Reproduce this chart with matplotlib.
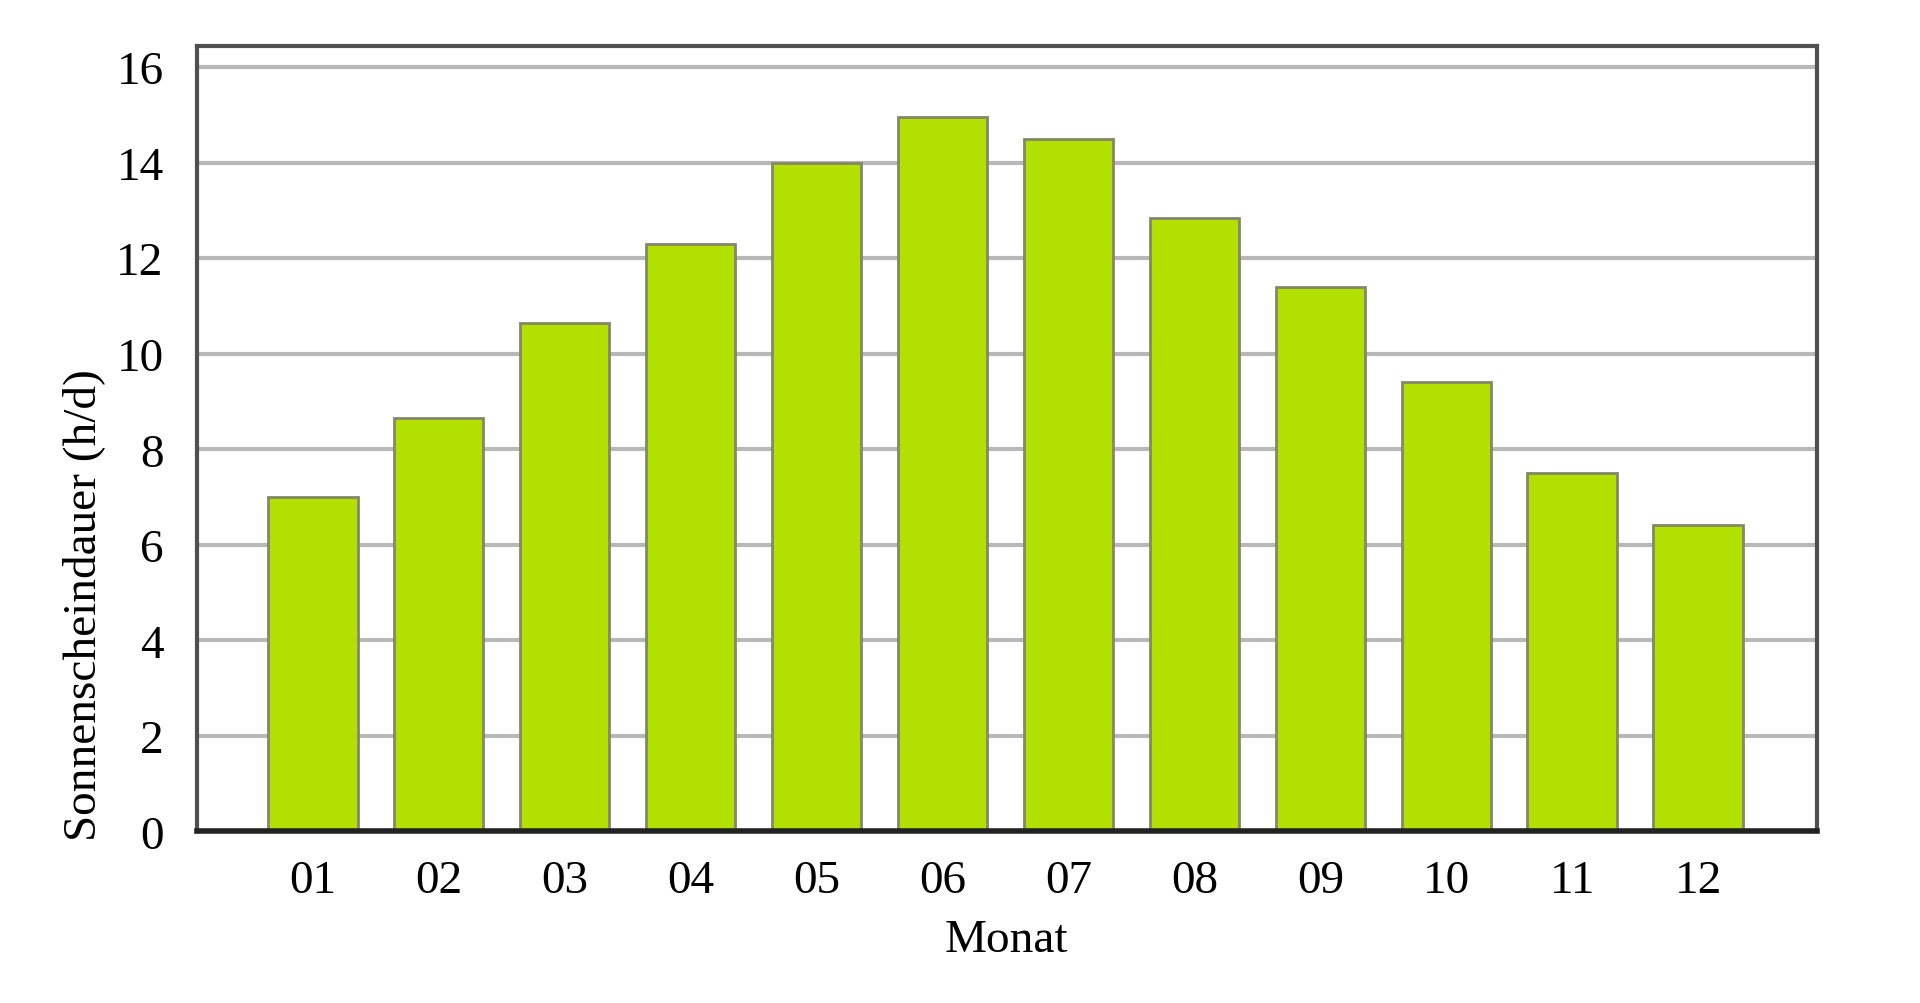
import numpy as np
import matplotlib
matplotlib.use("Agg")
import matplotlib.pyplot as plt

# Monthly mean sunshine duration
months = ["01", "02", "03", "04", "05", "06", "07", "08", "09", "10", "11", "12"]
sunshine = [7.0, 8.65, 10.65, 12.3, 14.0, 14.95, 14.5, 12.85, 11.4, 9.4, 7.5, 6.42]
yticks = [0, 2, 4, 6, 8, 10, 12, 14, 16]

plt.rcParams['font.family'] = ['Liberation Serif', 'DejaVu Serif']

fig = plt.figure(figsize=(19.2, 10.04), dpi=100)
ax = fig.add_axes([0.1026, 0.171, 0.8435, 0.782])

x = np.arange(len(months))
ax.bar(x, sunshine, width=0.71, color='#b2e000', edgecolor='#85876a',
       linewidth=2, zorder=3)

ax.set_xlim(-0.92, len(months) - 1 + 0.94)
ax.set_ylim(0, 16.44)
ax.set_yticks(yticks)
ax.set_xticks(x)
ax.set_xticklabels(months)
ax.yaxis.grid(True, color='#b8b8b8', linewidth=3, zorder=0)
ax.set_axisbelow(True)

ax.tick_params(axis='both', length=0, labelsize=34)
ax.tick_params(axis='y', pad=24)
ax.tick_params(axis='x', pad=20)

for side in ['top', 'right', 'left']:
    ax.spines[side].set_color('#505050')
    ax.spines[side].set_linewidth(3)
ax.spines['bottom'].set_color('#222222')
ax.spines['bottom'].set_linewidth(4)
ax.spines['bottom'].set_zorder(4)

ax.set_xlabel('Monat', fontsize=34, labelpad=12)
ax.set_ylabel('Sonnenscheindauer (h/d)', fontsize=34)
ax.yaxis.set_label_coords(-0.057, 0.29)

fig.savefig('out.png', dpi=100, facecolor='white')
